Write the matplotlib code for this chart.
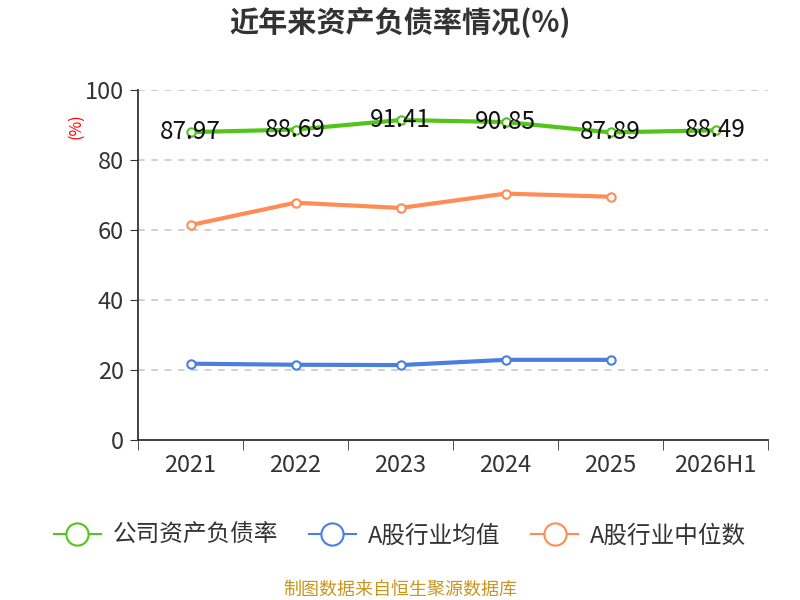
import numpy as np
import matplotlib.pyplot as plt

plt.rcParams['font.family'] = ['Noto Sans CJK SC', 'DejaVu Sans']

years = ['2021', '2022', '2023', '2024', '2025', '2026H1']
company = [87.97, 88.69, 91.41, 90.85, 87.89, 88.49]
industry_avg = [21.8, 21.5, 21.4, 22.9, 22.9]
industry_median = [61.4, 67.8, 66.3, 70.4, 69.5]

fig = plt.figure(figsize=(8, 6), dpi=100)
ax = fig.add_axes([0.1725, 0.2667, 0.7875, 0.5833])

x = np.arange(len(years))
green, blue, orange = '#52c41a', '#4a7fe0', '#ff8c55'

ax.plot(x, company, color=green, lw=3, marker='o', ms=6, mfc='white', mec=green, mew=1.5, zorder=3)
ax.plot(x[:len(industry_avg)], industry_avg, color=blue, lw=3, marker='o', ms=6, mfc='white', mec=blue, mew=1.5, zorder=3)
ax.plot(x[:len(industry_median)], industry_median, color=orange, lw=3, marker='o', ms=6, mfc='white', mec=orange, mew=1.5, zorder=3)

for xi, v in zip(x, company):
    ax.text(xi, v, f'{v:.2f}', ha='center', va='center', fontsize=17.5, color='#111111', zorder=4)

ax.set_xlim(-0.5, len(years) - 0.5)
ax.set_ylim(0, 100)
ax.set_yticks(np.arange(0, 101, 20))
ax.set_xticks(x)
ax.set_xticklabels(years)
ax.set_xticks(np.arange(-0.5, len(years), 1), minor=True)
ax.tick_params(axis='x', which='major', length=0, pad=10, labelsize=17, labelcolor='#333333')
ax.tick_params(axis='x', which='minor', length=7, color='#333333')
ax.tick_params(axis='y', length=6, pad=4, color='#333333', labelsize=17, labelcolor='#333333')
ax.grid(axis='y', ls=(0, (4, 4)), color='#c8c8c8', lw=1.2)
for s in ['top', 'right']:
    ax.spines[s].set_visible(False)
ax.spines['left'].set_color('#333333')
ax.spines['bottom'].set_color('#333333')
ax.spines['left'].set_linewidth(1.3)
ax.spines['bottom'].set_linewidth(1.3)

fig.text(0.095, 0.79, '(%)', color='red', rotation=90, fontsize=11.5, ha='center', va='center')
fig.text(0.5, 0.962, '近年来资产负债率情况(%)', ha='center', va='center', fontsize=21, fontweight='bold', color='#333333')

handles = [
    plt.Line2D([], [], color=green, lw=1.5, marker='o', ms=16, mfc='white', mec=green, mew=1.5),
    plt.Line2D([], [], color=blue, lw=1.5, marker='o', ms=16, mfc='white', mec=blue, mew=1.5),
    plt.Line2D([], [], color=orange, lw=1.5, marker='o', ms=16, mfc='white', mec=orange, mew=1.5),
]
fig.legend(handles, ['公司资产负债率', 'A股行业均值', 'A股行业中位数'], loc='center', bbox_to_anchor=(0.5, 0.107),
           ncol=3, frameon=False, fontsize=17, handlelength=2.0, columnspacing=1.3, handletextpad=0.5,
           labelcolor='#333333')

fig.text(0.5, 0.018, '制图数据来自恒生聚源数据库', ha='center', va='center', fontsize=13, color='#c8961e')

fig.savefig('out.png', dpi=100)
